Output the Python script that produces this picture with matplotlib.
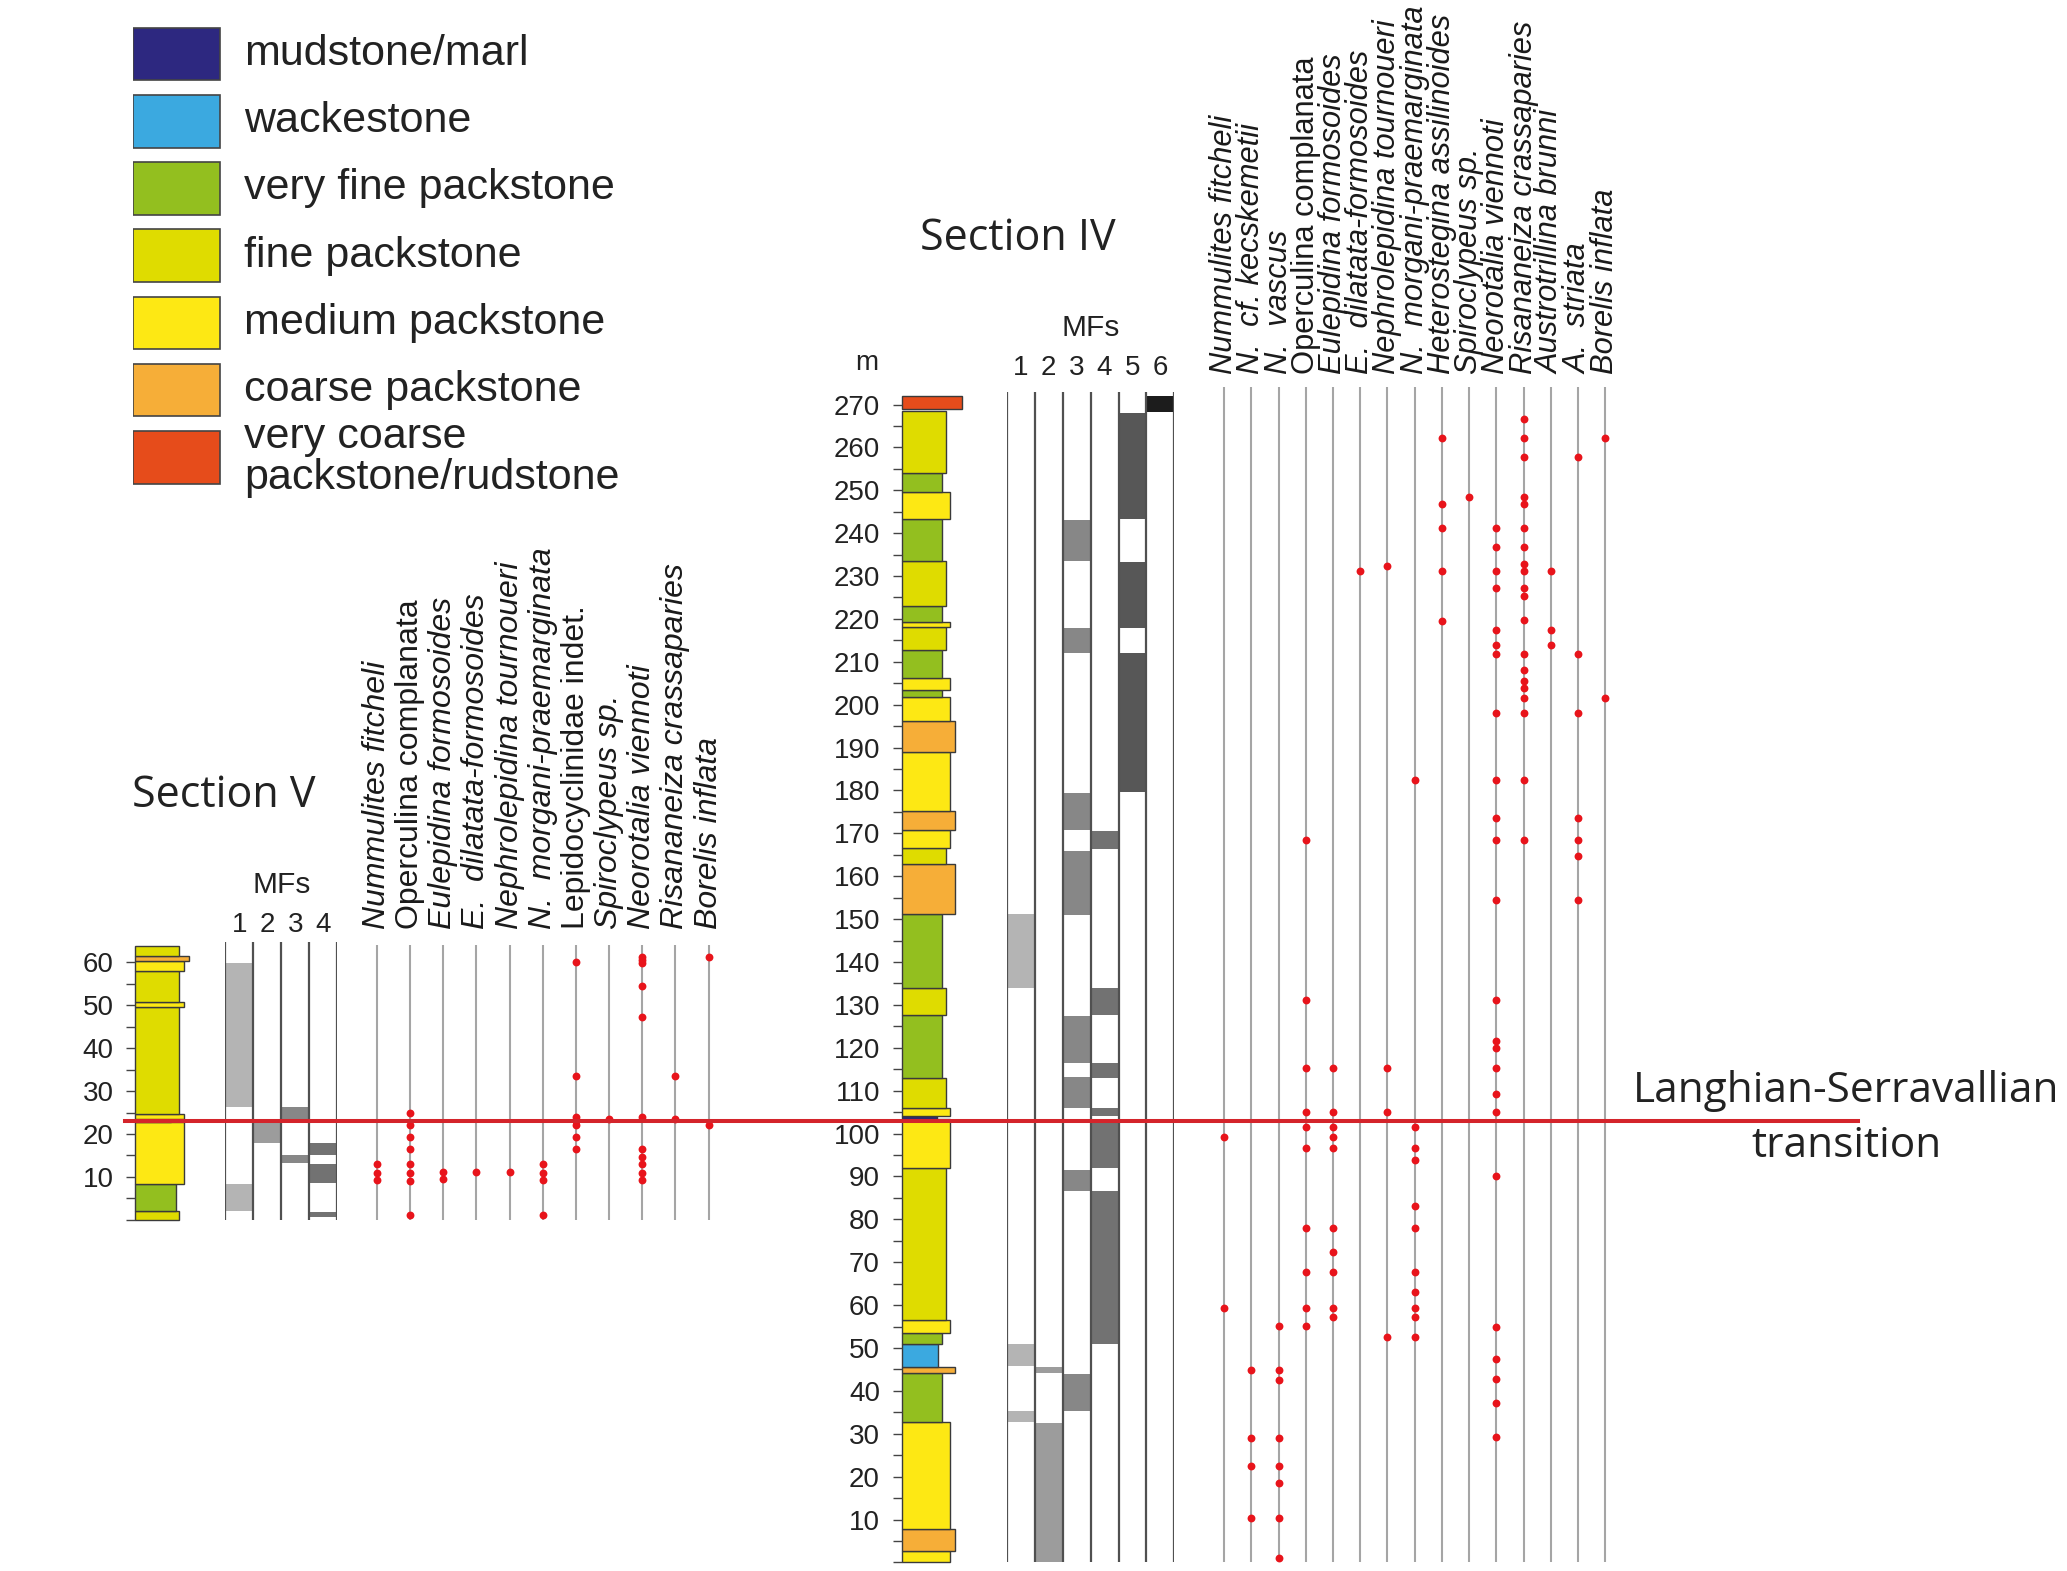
"""Microfacies and larger benthic foraminifera ranges, Sections V and IV,
with the Langhian-Serravallian transition marked across both logs."""

import matplotlib
matplotlib.use('Agg')
import matplotlib.pyplot as plt
from matplotlib.lines import Line2D

plt.rcParams['font.family'] = ['Liberation Sans', 'DejaVu Sans']

# --- lithology legend -------------------------------------------------------
LITH_NAMES = ['mudstone/marl', 'wackestone', 'very fine packstone', 'fine packstone',
              'medium packstone', 'coarse packstone', 'very coarse\npackstone/rudstone']
LITH_KEYS = ['mud', 'wacke', 'vfine', 'fine', 'medium', 'coarse', 'vcoarse']
LITH_COLORS = {'mud': '#2d2880', 'wacke': '#3ba9e0', 'vfine': '#93bf1f', 'fine': '#dfdc00',
               'medium': '#fde814', 'coarse': '#f6ae38', 'vcoarse': '#e64c1b'}
# column width grows with grain size (layout px)
LITH_WIDTH = {'mud': 27, 'wacke': 28, 'vfine': 31, 'fine': 33.5, 'medium': 37,
              'coarse': 40.5, 'vcoarse': 46}
MF_COLORS = ['#b4b4b4', '#9c9c9c', '#878787', '#727272', '#575757', '#1c1c1c']

# --- Section IV -------------------------------------------------------------
IV_LITH_BASE = [0, 2.7, 7.7, 32.8, 44.1, 45.5, 51.0, 53.5, 56.6, 91.9, 103.4, 104.1,
                105.9, 113.0, 127.6, 134.0, 151.1, 162.9, 166.5, 170.9, 175.2, 189.0,
                196.1, 201.9, 203.4, 206.3, 212.8, 218.1, 219.4, 223.1, 233.5, 243.2,
                249.7, 254.0, 269.0]
IV_LITH_TOP = [2.7, 7.7, 32.8, 44.1, 45.5, 51.0, 53.5, 56.6, 91.9, 103.4, 104.1, 105.9,
               113.0, 127.6, 134.0, 151.1, 162.9, 166.5, 170.9, 175.2, 189.0, 196.1,
               201.9, 203.4, 206.3, 212.8, 218.1, 219.4, 223.1, 233.5, 243.2, 249.7,
               254.0, 268.5, 272.1]
IV_LITH_TYPE = ['medium', 'coarse', 'medium', 'vfine', 'coarse', 'wacke', 'vfine',
                'medium', 'fine', 'medium', 'mud', 'medium', 'fine', 'vfine', 'fine',
                'vfine', 'coarse', 'fine', 'medium', 'coarse', 'medium', 'coarse',
                'medium', 'vfine', 'medium', 'vfine', 'fine', 'medium', 'vfine', 'fine',
                'vfine', 'medium', 'vfine', 'fine', 'vcoarse']

IV_MF = [1, 1, 1, 2, 2, 3, 3, 3, 3, 3, 3, 3, 3, 4, 4, 4, 4, 4, 4, 5, 5, 5, 6]
IV_MF_BASE = [134.0, 45.8, 32.8, 44.1, 0.0, 233.5, 212.1, 170.9, 150.9, 116.5, 105.9,
              86.5, 35.4, 166.3, 127.6, 113.0, 104.1, 91.9, 51.0, 243.2, 217.9, 179.7,
              268.3]
IV_MF_TOP = [151.1, 50.9, 35.4, 45.5, 32.6, 243.0, 217.8, 179.5, 165.9, 127.3, 113.1,
             91.6, 43.9, 170.6, 134.0, 116.5, 105.9, 103.0, 86.5, 268.0, 233.3, 212.1,
             272.1]

IV_TAXA = ['Nummulites fitcheli', 'N.  cf. kecskemetii', 'N.  vascus',
           'Operculina complanata', 'Eulepidina formosoides', 'E.  dilatata-formosoides',
           'Nephrolepidina tournoueri', 'N.  morgani-praemarginata',
           'Heterostegina assilinoides', 'Spiroclypeus sp.', 'Neorotalia viennoti',
           'Risananeiza crassaparies', 'Austrotrillina brunni', 'A.  striata',
           'Borelis inflata']
IV_UPRIGHT = ['Operculina complanata']
IV_OCC = [
    [99.3, 59.3],
    [44.9, 29.1, 22.5, 10.3],
    [55.2, 44.9, 42.6, 29.1, 22.5, 18.5, 10.3, 1.1],
    [168.5, 131.1, 115.2, 105.1, 101.6, 96.7, 77.9, 67.7, 59.3, 55.2],
    [115.2, 105.1, 101.6, 99.3, 96.7, 77.9, 72.3, 67.7, 59.3, 57.2],
    [231.2],
    [232.4, 115.2, 105.1, 52.5],
    [182.4, 101.6, 96.7, 93.8, 83.0, 77.9, 67.7, 63.0, 59.3, 57.2, 52.5],
    [262.1, 246.7, 241.1, 231.2, 219.5],
    [248.5],
    [241.1, 236.7, 231.2, 227.1, 217.4, 213.9, 211.8, 198.1, 182.4, 173.5, 168.5,
     154.5, 131.1, 121.7, 119.9, 115.2, 109.2, 105.1, 90.0, 55.0, 47.4, 42.7, 37.1, 29.3],
    [266.6, 262.1, 257.8, 248.5, 246.7, 241.1, 236.7, 232.7, 231.2, 227.1, 225.3,
     219.7, 211.8, 208.1, 205.6, 203.8, 201.6, 198.1, 182.4, 168.5],
    [231.2, 217.4, 213.9],
    [257.8, 211.8, 198.1, 173.5, 168.5, 164.7, 154.5],
    [262.1, 201.6],
]

# --- Section V --------------------------------------------------------------
V_LITH_BASE = [0, 2.0, 8.4, 22.8, 23.4, 24.7, 49.5, 50.7, 57.9, 60.4, 61.6]
V_LITH_TOP = [2.0, 8.4, 22.8, 23.4, 24.7, 49.5, 50.7, 57.9, 60.4, 61.6, 63.9]
V_LITH_TYPE = ['fine', 'vfine', 'medium', 'mud', 'medium', 'fine', 'medium', 'fine',
               'medium', 'coarse', 'fine']

V_MF = [1, 1, 2, 3, 3, 4, 4, 4]
V_MF_BASE = [26.3, 2.1, 18.0, 23.3, 13.3, 15.2, 8.6, 0.7]
V_MF_TOP = [59.8, 8.4, 22.8, 26.3, 15.0, 17.9, 13.1, 1.9]

V_TAXA = ['Nummulites fitcheli', 'Operculina complanata', 'Eulepidina formosoides',
          'E.  dilatata-formosoides', 'Nephrolepidina tournoueri',
          'N.  morgani-praemarginata', 'Lepidocyclinidae indet.', 'Spiroclypeus sp.',
          'Neorotalia viennoti', 'Risananeiza crassaparies', 'Borelis inflata']
V_UPRIGHT = ['Operculina complanata', 'Lepidocyclinidae indet.']
V_OCC = [
    [13.0, 11.0, 9.2],
    [25.0, 22.2, 19.3, 16.6, 13.0, 11.0, 9.1, 1.1],
    [11.2, 9.4],
    [11.1],
    [11.1],
    [13.0, 11.0, 9.2, 1.1],
    [60.0, 33.6, 24.0, 23.0, 22.0, 19.3, 16.6],
    [23.6],
    [61.3, 60.5, 59.8, 54.6, 47.2, 24.0, 16.6, 14.7, 13.0, 11.0, 9.2],
    [33.6, 23.6],
    [61.2, 22.0],
]

BOUNDARY_IV = 102.9  # Langhian-Serravallian transition, metres in Section IV

# layout frame (reference drawn at ~1568 x 1192 units)
WD, HD = 1568.3, 1192.0
PX_M = 3.254
DOT = '#e8141b'

fig = plt.figure(figsize=(20.67, 15.71), dpi=100)


def axes_at(x0, x1, y_zero, m_top):
    y_top = y_zero - m_top * PX_M
    ax = fig.add_axes([x0 / WD, 1 - y_zero / HD, (x1 - x0) / WD, (y_zero - y_top) / HD])
    ax.set_ylim(0, m_top)
    ax.set_xlim(0, x1 - x0)
    for s in ax.spines.values():
        s.set_visible(False)
    ax.set_xticks([])
    ax.set_yticks([])
    ax.patch.set_alpha(0)
    return ax


def draw_lith(ax, base, top, kind, top_tick, minor_from=0):
    for b, t, k in zip(base, top, kind):
        ax.barh(b, LITH_WIDTH[k], height=t - b, left=0, align='edge',
                color=LITH_COLORS[k], edgecolor='#3a3a3a', linewidth=1.0, clip_on=False)
    ax.set_yticks(range(10, top_tick + 1, 10))
    ax.set_yticks(range(minor_from, top_tick + 1, 5), minor=True)
    ax.tick_params(axis='y', which='both', length=6.5, width=1.0, color='#444444',
                   labelsize=20, labelcolor='#222222', pad=9)


def draw_mf(ax, n, cols, base, top, line_top, num_y, head_y):
    ax.set_xlim(0, n)
    for c, b, t in zip(cols, base, top):
        ax.barh(b, 1, height=t - b, left=c - 1, align='edge',
                color=MF_COLORS[c - 1], linewidth=0)
    ax.vlines(range(n + 1), 0, line_top, color='#505050', linewidth=1.6)
    for i in range(n):
        ax.text(i + 0.5, num_y, str(i + 1), ha='center', va='bottom',
                fontsize=20, color='#222222')
    ax.text(n / 2, head_y, 'MFs', ha='center', va='bottom', fontsize=21.5, color='#222222')


def draw_taxa(ax, taxa, occ, upright, line_top, label_y, size):
    n = len(taxa)
    ax.set_xlim(-0.5, n - 0.5)
    ax.vlines(range(n), 0, line_top, color='#a5a5a5', linewidth=1.5)
    for i, (name, depths) in enumerate(zip(taxa, occ)):
        ax.scatter([i] * len(depths), depths, s=32, color=DOT, zorder=3,
                   linewidths=0, clip_on=False)
        ax.text(i, label_y, name, rotation=90, ha='center', va='bottom', fontsize=size,
                style='normal' if name in upright else 'italic', color='#1a1a1a')


# Section IV
ax4_lith = axes_at(684, 730, 1185.5, 275)
draw_lith(ax4_lith, IV_LITH_BASE, IV_LITH_TOP, IV_LITH_TYPE, 270)
ax4_lith.text(-26.5, 279.6, 'm', ha='center', va='center', fontsize=20, color='#222222')
ax4_mf = axes_at(764, 891, 1185.5, 275)
draw_mf(ax4_mf, 6, IV_MF, IV_MF_BASE, IV_MF_TOP, 273, 275.4, 284.6)
ax4_sp = axes_at(918.4, 1228.3, 1185.5, 275)
draw_taxa(ax4_sp, IV_TAXA, IV_OCC, IV_UPRIGHT, 274, 277.2, 22.2)

# Section V
ax5_lith = axes_at(102.6, 148.6, 925.5, 66)
draw_lith(ax5_lith, V_LITH_BASE, V_LITH_TOP, V_LITH_TYPE, 60)
ax5_mf = axes_at(170.9, 255.8, 925.5, 66)
draw_mf(ax5_mf, 4, V_MF, V_MF_BASE, V_MF_TOP, 64.7, 65.8, 74.8)
ax5_sp = axes_at(273.4, 550.2, 925.5, 66)
draw_taxa(ax5_sp, V_TAXA, V_OCC, V_UPRIGHT, 64.0, 67.8, 23)

# titles
fig.text(772.5 / WD, 1 - 181.5 / HD, 'Section IV', ha='center', va='center',
         fontsize=31, family='Open Sans', color='#222222')
fig.text(169.5 / WD, 1 - 604 / HD, 'Section V', ha='center', va='center',
         fontsize=31, family='Open Sans', color='#222222')

# Langhian-Serravallian boundary across both sections
fy = fig.transFigure.inverted().transform(
    ax4_lith.transData.transform((0, BOUNDARY_IV)))[1]
fig.add_artist(Line2D([95 / WD, 1410 / WD], [fy, fy], transform=fig.transFigure,
                      color='#d4242b', linewidth=2.9, zorder=10))
fig.text(1401 / WD, fy + 2 / HD, 'Langhian-Serravallian\ntransition', ha='center',
         va='center', fontsize=30.5, family='Open Sans', linespacing=1.42,
         color='#222222')

# legend
ax_leg = fig.add_axes([101 / WD, 1 - 372.5 / HD, 379 / WD, 357 / HD])
ax_leg.set_xlim(0, 379)
ax_leg.set_ylim(len(LITH_KEYS) - 0.5, -0.5)
ax_leg.axis('off')
for i, (key, name) in enumerate(zip(LITH_KEYS, LITH_NAMES)):
    ax_leg.barh(i, 66, height=40 / 51, left=0, color=LITH_COLORS[key],
                edgecolor='#444444', linewidth=1.2)
    ax_leg.text(84, i, name, ha='left', va='center', fontsize=31,
                linespacing=1.05, color='#222222')

fig.savefig('out.png', dpi=100, facecolor='white')
